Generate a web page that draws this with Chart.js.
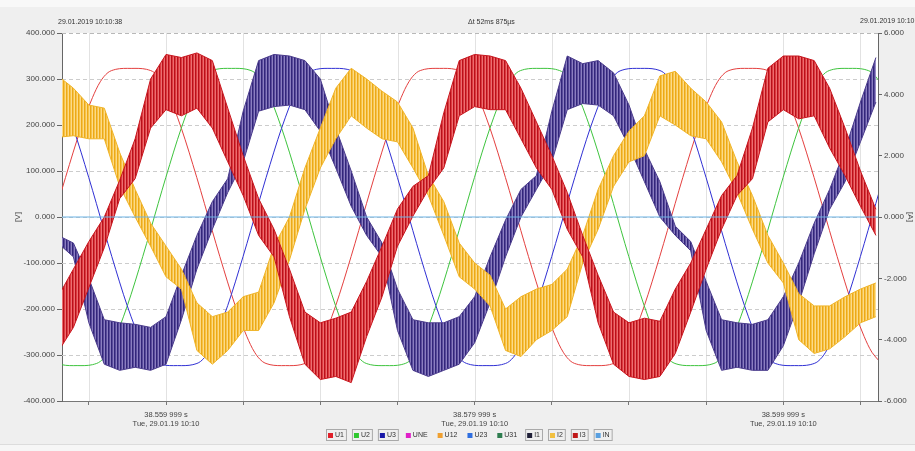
<!DOCTYPE html>
<html><head><meta charset="utf-8">
<script src="https://cdn.jsdelivr.net/npm/chart.js@4.4.0/dist/chart.umd.min.js"></script>
<style>html,body{margin:0;padding:0;background:#efefef;overflow:hidden}canvas{display:block}</style>
</head><body>
<canvas id="c" width="915" height="451"></canvas>
<script>
// ===== DATA (times in ms relative to 38.559 999 s) =====
const uStartMs = -7.76, uStepMs = 0.5;
const U1 = [-58,
 0,58,114,168,217,260,294,314,321,323,323,323,321,314,294,260,217,168,114,58,0,-58,-114,-168,-217,-260,-294,-314,-321,-323,-323,-323,-321,-314,-294,-260,-217,-168,-114,-58,
 0,58,114,168,217,260,294,314,321,323,323,323,321,314,294,260,217,168,114,58,0,-58,-114,-168,-217,-260,-294,-314,-321,-323,-323,-323,-321,-314,-294,-260,-217,-168,-114,-58,
 0,58,114,168,217,260,294,314,321,323,323,323,321,314,294,260,217,168,114,58,0,-58,-114,-168,-217,-260,-294,-314];
const U2 = [-294,-314,-321,-323,-323,-323,-321,-314,-294,-260,-217,-168,-114,-58,
 0,58,114,168,217,260,294,314,321,323,323,323,321,314,294,260,217,168,114,58,0,-58,-114,-168,-217,-260,-294,-314,-321,-323,-323,-323,-321,-314,-294,-260,-217,-168,-114,-58,
 0,58,114,168,217,260,294,314,321,323,323,323,321,314,294,260,217,168,114,58,0,-58,-114,-168,-217,-260,-294,-314,-321,-323,-323,-323,-321,-314,-294,-260,-217,-168,-114,-58,
 0,58,114,168,217,260,294,314,321,323,323,323,321,314,294];
const U3 = [314,294,260,217,168,114,58,0,-58,-114,-168,-217,-260,-294,-314,-321,-323,-323,-323,-321,-314,-294,-260,-217,-168,-114,-58,
 0,58,114,168,217,260,294,314,321,323,323,323,321,314,294,260,217,168,114,58,0,-58,-114,-168,-217,-260,-294,-314,-321,-323,-323,-323,-321,-314,-294,-260,-217,-168,-114,-58,
 0,58,114,168,217,260,294,314,321,323,323,323,321,314,294,260,217,168,114,58,0,-58,-114,-168,-217,-260,-294,-314,-321,-323,-323,-323,-321,-314,-294,-260,-217,-168,-114,-58,
 0,58];

const iStartMs = -7, iStepMs = 1;
const I1Lo = [-0.85,-1.3,-3.45,-4.8,-5.0,-4.9,-5.0,-4.8,-3.35,-1.7,-0.4,0.8,1.8,3.45,3.6,3.65,3.5,2.8,1.6,0.35,-0.6,-1.3,-3.7,-5.0,-5.2,-5.0,-4.8,-4.1,-2.8,-1.3,0.0,0.9,1.8,3.5,3.7,3.65,3.3,2.3,1.15,0.0,-0.6,-1.1,-3.7,-5.0,-4.9,-5.0,-5.0,-4.2,-2.8,-1.2,0.25,1.15,2.45,3.75];
const I1Hi = [-0.6,-0.85,-2.0,-3.35,-3.45,-3.5,-3.6,-3.25,-1.9,-0.6,0.5,1.25,3.45,5.1,5.3,5.25,5.1,4.5,2.9,1.5,0.0,-0.85,-2.35,-3.35,-3.45,-3.45,-3.25,-2.6,-1.3,-0.1,0.9,1.35,3.45,5.25,5.0,5.1,4.7,3.65,2.2,1.15,-0.3,-0.8,-2.1,-3.35,-3.45,-3.5,-3.35,-2.6,-1.5,-0.2,0.9,2.2,3.75,5.2];
const I2Lo = [2.6,2.65,2.55,2.55,1.0,0.0,-0.95,-1.95,-2.35,-4.35,-4.8,-4.35,-3.7,-3.7,-2.8,-1.4,0.25,1.6,2.55,3.3,2.9,2.55,2.45,1.6,0.7,-0.6,-1.95,-2.35,-2.9,-4.35,-4.55,-4.0,-3.7,-3.25,-1.5,-0.4,1.0,1.8,2.0,3.3,3.0,2.65,2.55,1.8,0.8,-0.4,-1.5,-2.15,-4.0,-4.45,-4.3,-3.9,-3.45,-3.25];
const I2Hi = [4.6,4.2,3.65,3.55,2.1,0.9,-0.2,-0.95,-1.7,-2.8,-3.25,-3.1,-2.6,-2.45,-0.95,0.0,1.6,2.9,4.2,4.85,4.5,4.1,3.75,2.9,1.35,0.5,-0.85,-1.5,-1.9,-3.0,-2.6,-2.35,-2.2,-1.7,-0.6,0.9,2.0,2.8,3.3,4.6,4.75,4.2,3.75,3.1,1.8,0.7,-0.6,-1.5,-2.5,-2.9,-2.9,-2.6,-2.35,-2.15];
const I3Lo = [-4.4,-3.6,-2.3,-1.0,0.6,1.25,2.9,3.5,3.3,3.55,2.9,1.8,0.7,-0.6,-1.3,-3.25,-4.8,-5.3,-5.2,-5.4,-3.9,-2.6,-0.95,0.03,0.9,1.6,3.3,3.6,3.5,3.5,2.55,1.6,0.9,-0.4,-1.3,-3.45,-4.8,-5.2,-5.3,-5.2,-4.45,-3.1,-1.7,-0.4,0.7,1.25,3.1,3.5,3.2,3.3,2.25,1.35,0.35,-0.6];
const I3Hi = [-2.6,-1.7,-0.8,0.0,1.2,2.55,4.5,5.3,5.2,5.35,5.1,3.55,2.0,0.6,-0.4,-1.7,-3.1,-3.45,-3.3,-3.1,-2.1,-0.95,0.26,1.0,1.35,3.4,5.1,5.3,5.25,5.1,4.2,3.1,2.0,0.8,-0.6,-1.9,-3.1,-3.45,-3.3,-3.4,-2.35,-1.5,-0.4,0.7,1.35,2.9,4.85,5.25,5.25,5.1,4.2,2.9,1.5,0.25];
const inTimesMs = [-7, 47];
const IN = [0.0, 0.0];

const xMinMs = -6.74, xMaxMs = 46.135;
const xTickMs = [-5,0,5,10,15,20,25,30,35,40,45];
const xLabelMs = [0, 20, 40];
const xLabelLines = [["38.559 999 s","Tue, 29.01.19 10:10"],["38.579 999 s","Tue, 29.01.19 10:10"],["38.599 999 s","Tue, 29.01.19 10:10"]];
const vTicks = [-400,-300,-200,-100,0,100,200,300,400];
const aTicks = [-6,-4,-2,0,2,4,6];
const headerTexts = ["29.01.2019 10:10:38", "\u0394t 52ms 875\u00b5s", "29.01.2019 10:10:38"];
const legendNames = ['U1','U2','U3','UNE','U12','U23','U31','I1','I2','I3','IN'];
const legendColors = ['#e0202a','#2ec82e','#1818a8','#e020c8','#f0a030','#2f6fe0','#2e7d4f','#202038','#f2c040','#c01818','#5aa0e0'];
const legendShown = [true,true,true,false,false,false,false,true,true,true,true];

// ===== helpers =====
const FONT = '"Liberation Sans", Arial, sans-serif';
function series(start, step, arr){ return arr.map((v,i)=>({x:start+step*i, y:v})); }
function seriesT(times, arr){ return arr.map((v,i)=>({x:times[i], y:v})); }
const canvas = document.getElementById('c');
const ctx0 = canvas.getContext('2d');
function stripes(c1,c2,c3){
  const p = document.createElement('canvas'); p.width = 3; p.height = 1;
  const g = p.getContext('2d');
  g.fillStyle=c1; g.fillRect(0,0,1,1); g.fillStyle=c2; g.fillRect(1,0,1,1); g.fillStyle=c3; g.fillRect(2,0,1,1);
  return ctx0.createPattern(p,'repeat');
}
const patRed = stripes('#b8101a','#de3a40','#ec6e70');
const patNavy = stripes('#32267a','#5a4b9c','#8a7ec0');
const patYel = stripes('#eca818','#f6c447','#fcda88');

function volt(label, arr, color, order){
  return {label, data: series(uStartMs,uStepMs,arr), yAxisID:'yV', borderColor:color, borderWidth:1, pointRadius:0, tension:0.35, fill:false, order, clip:0};
}
function band(label, lo, hi, line, pat, order){
  return [
    {label: label+'_lo', data: series(iStartMs,iStepMs,lo), yAxisID:'yA', borderColor:line, borderWidth:1, pointRadius:0, tension:0, fill:false, order, clip:0},
    {label, data: series(iStartMs,iStepMs,hi), yAxisID:'yA', borderColor:line, borderWidth:1, pointRadius:0, tension:0, fill:'-1', backgroundColor:pat, order, clip:0}
  ];
}

const datasets = [
  volt('U1', U1, '#e4403f', 6),
  volt('U2', U2, '#3ec43e', 5),
  volt('U3', U3, '#3030d4', 4),
  ...band('I1', I1Lo, I1Hi, '#4a3b8c', patNavy, 3),
  ...band('I2', I2Lo, I2Hi, '#f0b428', patYel, 2),
  ...band('I3', I3Lo, I3Hi, '#c8161e', patRed, 1),
  {label:'IN', data: seriesT(inTimesMs, IN), yAxisID:'yA', borderColor:'#6ab2e4', borderWidth:1, pointRadius:0, fill:false, order:0, clip:0}
];

const decor = {
  id:'decor',
  beforeDraw(chart){
    const {ctx, chartArea:a, width, height} = chart;
    ctx.save();
    ctx.fillStyle='#efefef'; ctx.fillRect(0,0,width,height);
    ctx.fillStyle='#f8f8f8'; ctx.fillRect(0,0,width,7);
    ctx.fillStyle='#f6f6f6'; ctx.fillRect(0,445,width,6);
    ctx.fillStyle='#dcdcdc'; ctx.fillRect(0,444,width,1);
    ctx.fillStyle='#ffffff'; ctx.fillRect(a.left,a.top,a.right-a.left,a.bottom-a.top);
    ctx.restore();
  },
  beforeDatasetsDraw(chart){
    const {ctx, chartArea:a, scales} = chart;
    ctx.save();
    ctx.lineWidth = 1;
    ctx.strokeStyle = '#e2e2e2';
    scales.x.ticks.forEach(t=>{
      const x = Math.round(scales.x.getPixelForValue(t.value))+0.5;
      ctx.beginPath(); ctx.moveTo(x,a.top); ctx.lineTo(x,a.bottom); ctx.stroke();
    });
    ctx.setLineDash([4,3]);
    ctx.strokeStyle = '#cccccc';
    scales.yV.ticks.forEach(t=>{
      if (Math.abs(t.value) >= 400) return;
      const y = Math.round(scales.yV.getPixelForValue(t.value))+0.5;
      ctx.beginPath(); ctx.moveTo(a.left,y); ctx.lineTo(a.right,y); ctx.stroke();
    });
    ctx.strokeStyle = '#b8b8b8';
    ctx.beginPath(); ctx.moveTo(a.left,a.top+0.5); ctx.lineTo(a.right,a.top+0.5); ctx.stroke();
    ctx.restore();
  },
  afterDraw(chart){
    const {ctx} = chart;
    ctx.save();
    ctx.fillStyle = '#333';
    ctx.font = '7px ' + FONT;
    ctx.textBaseline = 'middle';
    ctx.textAlign = 'left';
    ctx.fillText(headerTexts[0], 58, 22);
    ctx.fillText(headerTexts[1], 468, 22);
    ctx.fillText(headerTexts[2], 860, 21);
    // legend
    ctx.font = '7px ' + FONT;
    const items = legendNames.map((n,i)=>{
      const tw = ctx.measureText(n).width;
      return {n, c: legendColors[i], s: legendShown[i], w: tw + 12};
    });
    const gap = 5;
    const total = items.reduce((s,it)=>s+it.w,0) + gap*(items.length-1);
    let x = Math.round(469 - total/2);
    const cy = 435;
    items.forEach(it=>{
      if (it.s){
        ctx.strokeStyle = '#a9a9a9'; ctx.lineWidth = 1;
        ctx.strokeRect(x+0.5, cy-5.5, it.w-1, 11);
      }
      ctx.fillStyle = it.c;
      ctx.fillRect(x+2, cy-2, 5, 5);
      ctx.fillStyle = '#333';
      ctx.fillText(it.n, x+9, cy+0.5);
      x += it.w + gap;
    });
    ctx.restore();
  }
};

const tickFont = {family: FONT, size: 8};
new Chart(canvas, {
  type:'line',
  data:{datasets},
  options:{
    responsive:false, animation:false, devicePixelRatio:1,
    layout:{padding:{top:33, bottom:20, left:0, right:0}},
    plugins:{legend:{display:false}, tooltip:{enabled:false}},
    events:[],
    scales:{
      x:{
        type:'linear', min:xMinMs, max:xMaxMs,
        afterBuildTicks(s){ s.ticks = xTickMs.map(v=>({value:v})); },
        afterFit(s){ s.height = 30; },
        ticks:{autoSkip:false, maxRotation:0, padding:5, color:'#444', font:{family:FONT, size:7.5},
          callback(v){ const i = xLabelMs.findIndex(t=>Math.abs(t-v)<1e-6); return i>=0 ? xLabelLines[i] : ''; }},
        grid:{drawOnChartArea:false, drawTicks:true, tickLength:4, tickColor:'#777'},
        border:{color:'#777', width:1}
      },
      yV:{
        type:'linear', position:'left', min:-400, max:400,
        afterBuildTicks(s){ s.ticks = vTicks.map(v=>({value:v})); },
        afterFit(s){ s.width = 62; },
        ticks:{color:'#444', font:tickFont, padding:2, callback:v=>Number(v).toFixed(3)},
        grid:{drawOnChartArea:false, drawTicks:true, tickLength:5, tickColor:'#666'},
        border:{color:'#666', width:1},
        title:{display:true, text:'[V]', color:'#444', font:{family:FONT, size:8}, padding:{top:13, bottom:0}}
      },
      yA:{
        type:'linear', position:'right', min:-6, max:6,
        afterBuildTicks(s){ s.ticks = aTicks.map(v=>({value:v})); },
        afterFit(s){ s.width = 37; },
        ticks:{color:'#444', font:tickFont, padding:2, callback:v=>Number(v).toFixed(3)},
        grid:{drawOnChartArea:false, drawTicks:true, tickLength:4, tickColor:'#666'},
        border:{color:'#666', width:1},
        title:{display:true, text:'[A]', color:'#444', font:{family:FONT, size:8}, padding:{top:0, bottom:0}}
      }
    }
  },
  plugins:[decor]
});
</script>
</body></html>
